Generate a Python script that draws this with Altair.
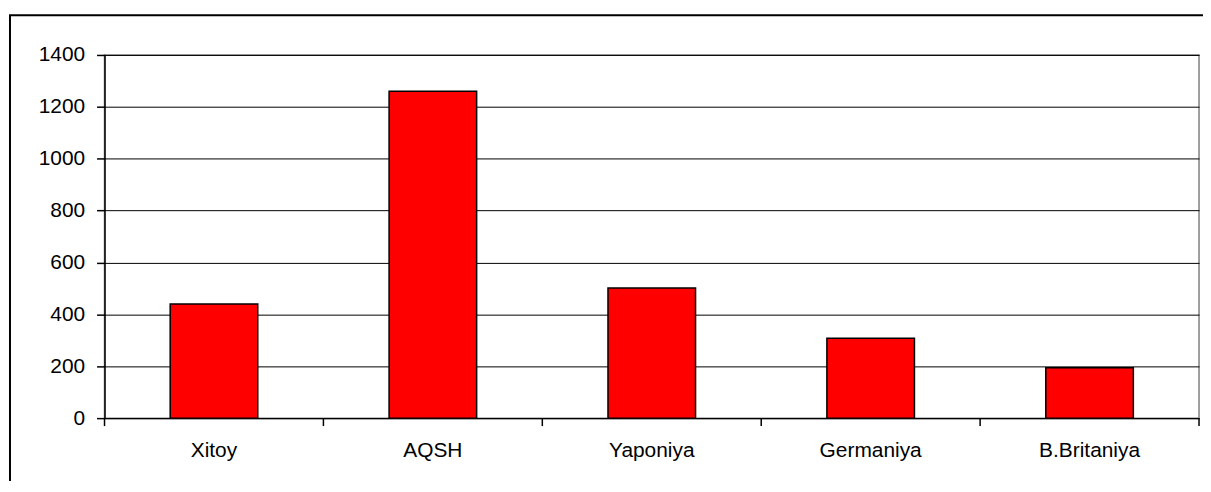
import altair as alt
import pandas as pd

categories = ["Xitoy", "AQSH", "Yaponiya", "Germaniya", "B.Britaniya"]
values = [440, 1260, 502, 308, 194]
y_ticks = [0, 200, 400, 600, 800, 1000, 1200, 1400]

df = pd.DataFrame({"cat": categories, "val": values})

W, H = 1100, 365
FONT = "Liberation Sans"

xscale = alt.Scale(domain=categories, paddingInner=0, paddingOuter=0)

bars = alt.Chart(df).mark_bar(
    size=88, color="#FF0000", stroke="#000000", strokeWidth=1.5
).encode(
    x=alt.X("cat:N", sort=categories, scale=xscale, title=None,
            axis=alt.Axis(labelAngle=0, ticks=False, domain=True, domainColor="#000000",
                          domainWidth=1.5, labelFont=FONT, labelFontSize=21,
                          labelColor="#000000", labelPadding=22, grid=False)),
    y=alt.Y("val:Q", title=None,
            scale=alt.Scale(domain=[0, 1400], nice=False),
            axis=alt.Axis(values=y_ticks, format="d", grid=True, gridColor="#000000", gridWidth=1,
                          domainColor="#000000", domainWidth=1.5, tickColor="#000000",
                          tickSize=8, tickWidth=1.5, labelFont=FONT, labelFontSize=21,
                          labelColor="#000000", labelPadding=12)),
)

ticks_start = alt.Chart(df).mark_rule(color="#000000", strokeWidth=1.5).encode(
    x=alt.X("cat:N", sort=categories, scale=xscale, bandPosition=0),
    y=alt.value(H), y2=alt.value(H + 8),
)
ticks_end = alt.Chart(df[df["cat"] == categories[-1]]).mark_rule(color="#000000", strokeWidth=1.5).encode(
    x=alt.X("cat:N", sort=categories, scale=xscale, bandPosition=1),
    y=alt.value(H), y2=alt.value(H + 8),
)

frame_data = alt.Data(values=[{"k": 1}])
frame_v = alt.Chart(frame_data).mark_rule(color="#000000", strokeWidth=2).encode(
    x=alt.value(-95), y=alt.value(-40), y2=alt.value(600)
)
frame_h = alt.Chart(frame_data).mark_rule(color="#000000", strokeWidth=2).encode(
    x=alt.value(-96), x2=alt.value(1400), y=alt.value(-40)
)

chart = alt.layer(bars, ticks_start, ticks_end, frame_v, frame_h).properties(
    width=W, height=H,
    autosize=alt.AutoSizeParams(type="none"),
    padding={"left": 97, "top": 46, "right": 4, "bottom": 62},
    background="#ffffff",
).configure_view(stroke="#808080", strokeWidth=1.5)

chart.save("out.html", embed_options={"renderer": "svg", "actions": False})
